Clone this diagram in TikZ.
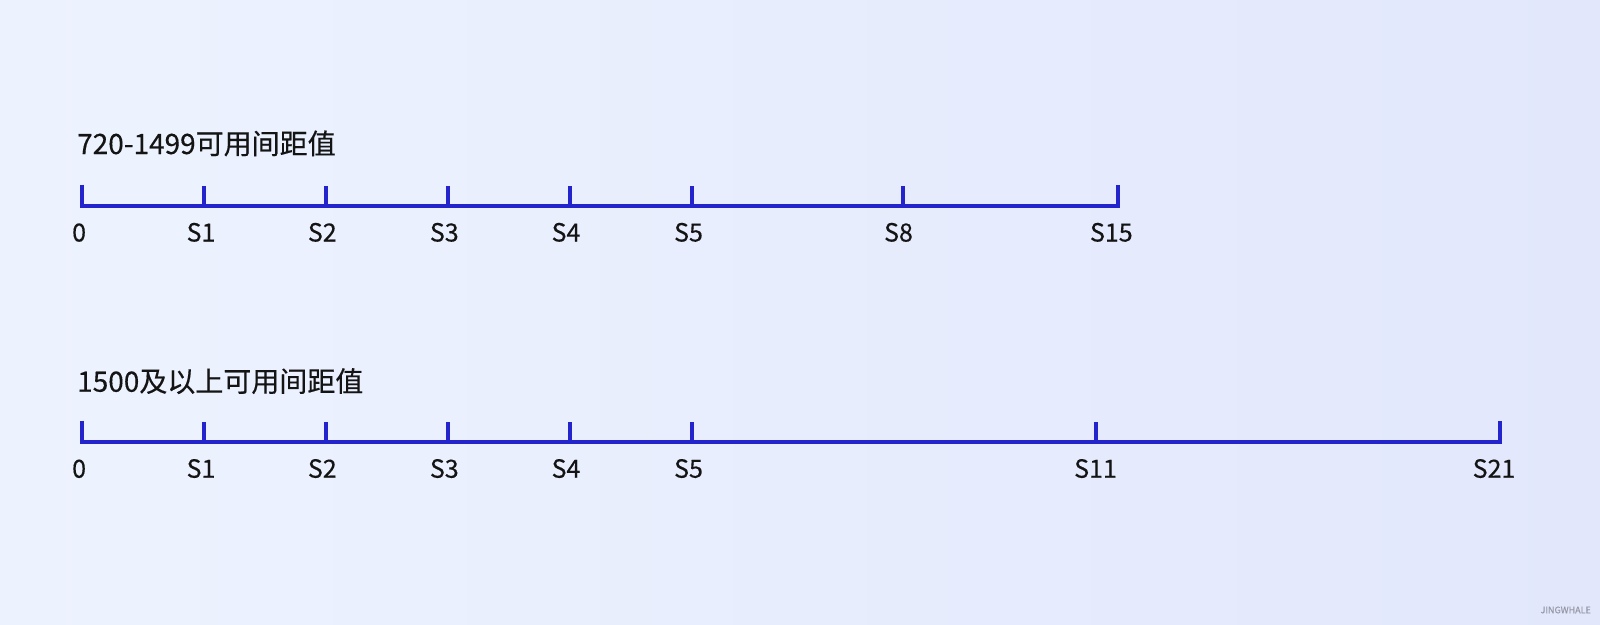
\documentclass[tikz,border=0pt]{standalone}
\usepackage{fontspec}
\setmainfont{Noto Sans CJK SC}[FakeBold=0.35]
\definecolor{bgleft}{RGB}{237,243,254}
\definecolor{bgright}{RGB}{226,231,252}
\definecolor{axisblue}{RGB}{36,36,204}
\definecolor{txt}{RGB}{20,20,20}
\definecolor{wm}{RGB}{150,152,165}
\tikzset{
  axisline/.style={draw=axisblue, line width=4pt, line join=miter, line cap=butt},
  tickmark/.style={draw=axisblue, line width=4pt, line cap=butt},
  ticklabel/.style={anchor=base, inner sep=0pt, font=\fontsize{25}{25}\selectfont, text=txt},
  titlelabel/.style={anchor=base west, inner sep=0pt, font=\fontsize{28}{28}\selectfont, text=txt},
}
\begin{document}
\begin{tikzpicture}[x=1pt,y=-1pt]
\useasboundingbox (0,0) rectangle (1600,624);
\shade[left color=bgleft, right color=bgright] (0,0) rectangle (1600,624);

% Row 1
\node[titlelabel] (t1) at (77,154) {720-1499可用间距值};
\coordinate (a0) at (81.6,205.5);
\coordinate (a1) at (204,205.5);
\coordinate (a2) at (325.8,205.5);
\coordinate (a3) at (447.8,205.5);
\coordinate (a4) at (569.5,205.5);
\coordinate (a5) at (692,205.5);
\coordinate (a8) at (902.5,205.5);
\coordinate (a15) at (1117.8,205.5);
\draw[axisline] ([yshift=21pt]a0) -- (a0) -- (a15) -- ([yshift=21pt]a15);
\foreach \n in {a1,a2,a3,a4,a5,a8}{
  \draw[tickmark] (\n) -- ([yshift=20pt]\n);
}
\node[ticklabel] (la0) at ([xshift=-2.5pt,yshift=-36pt]a0) {0};
\node[ticklabel] (la1) at ([xshift=-3pt,yshift=-36pt]a1) {S1};
\node[ticklabel] (la2) at ([xshift=-3.5pt,yshift=-36pt]a2) {S2};
\node[ticklabel] (la3) at ([xshift=-3.5pt,yshift=-36pt]a3) {S3};
\node[ticklabel] (la4) at ([xshift=-3.5pt,yshift=-36pt]a4) {S4};
\node[ticklabel] (la5) at ([xshift=-3.5pt,yshift=-36pt]a5) {S5};
\node[ticklabel] (la8) at ([xshift=-4pt,yshift=-36pt]a8) {S8};
\node[ticklabel] (la15) at ([xshift=-6.5pt,yshift=-36pt]a15) {S15};

% Row 2
\node[titlelabel] (t2) at (77,391.7) {1500及以上可用间距值};
\coordinate (b0) at (81.6,441.7);
\coordinate (b1) at (204,441.7);
\coordinate (b2) at (325.8,441.7);
\coordinate (b3) at (447.8,441.7);
\coordinate (b4) at (569.5,441.7);
\coordinate (b5) at (692,441.7);
\coordinate (b11) at (1095.5,441.7);
\coordinate (b21) at (1500,441.7);
\draw[axisline] ([yshift=21pt]b0) -- (b0) -- (b21) -- ([yshift=21pt]b21);
\foreach \n in {b1,b2,b3,b4,b5,b11}{
  \draw[tickmark] (\n) -- ([yshift=20pt]\n);
}
\node[ticklabel] (lb0) at ([xshift=-2.5pt,yshift=-36pt]b0) {0};
\node[ticklabel] (lb1) at ([xshift=-3pt,yshift=-36pt]b1) {S1};
\node[ticklabel] (lb2) at ([xshift=-3.5pt,yshift=-36pt]b2) {S2};
\node[ticklabel] (lb3) at ([xshift=-3.5pt,yshift=-36pt]b3) {S3};
\node[ticklabel] (lb4) at ([xshift=-3.5pt,yshift=-36pt]b4) {S4};
\node[ticklabel] (lb5) at ([xshift=-3.5pt,yshift=-36pt]b5) {S5};
\node[ticklabel] (lb11) at ([xshift=0pt,yshift=-36pt]b11) {S11};
\node[ticklabel] (lb21) at ([xshift=-6pt,yshift=-36pt]b21) {S21};

% watermark
\node[anchor=base east, inner sep=0pt, font=\fontsize{9}{9}\selectfont, text=wm] (wm) at (1591,613.3) {JINGWHALE};
\end{tikzpicture}
\end{document}
